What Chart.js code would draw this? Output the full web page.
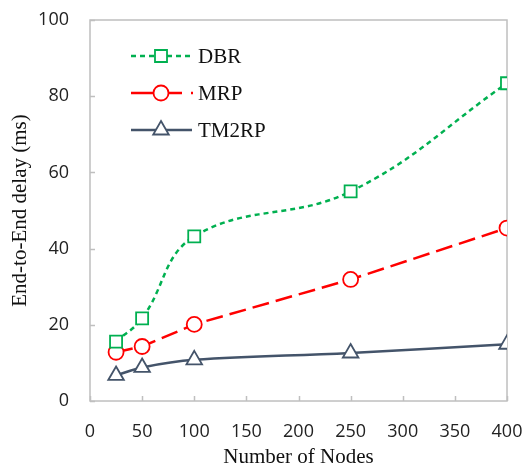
<!DOCTYPE html>
<html><head><meta charset="utf-8">
<script src="https://cdn.jsdelivr.net/npm/chart.js@4/dist/chart.umd.min.js"></script>
<style>html,body{margin:0;padding:0;background:#fff}#wrap{width:528px;height:470px}</style>
</head><body><div id="wrap"><canvas id="c" width="528" height="470"></canvas></div>
<script>
const nodes = [25, 50, 100, 250, 400];
const dbr = [15.6, 21.7, 43.2, 55.0, 83.4];
const mrp = [12.8, 14.3, 20.1, 31.9, 45.4];
const tm2rp = [6.7, 8.8, 10.8, 12.6, 14.9];
const xTicks = [0, 50, 100, 150, 200, 250, 300, 350, 400];
const yTicks = [0, 20, 40, 60, 80, 100];
const seriesNames = ['DBR', 'MRP', 'TM2RP'];

const GREEN = '#00B050', RED = '#FF0000', SLATE = '#44546A';
function pts(v){ return nodes.map((x,i)=>({x, y:v[i]})); }

const boxPlugin = {
  id:'boxTicks',
  beforeDatasetsDraw(chart){
    const {ctx, chartArea:a, scales} = chart;
    ctx.save();
    ctx.strokeStyle = '#BFBFBF'; ctx.lineWidth = 1.5;
    ctx.strokeRect(a.left, a.top, a.right - a.left, a.bottom - a.top);
    ctx.beginPath();
    xTicks.forEach(v=>{ const px = Math.round(scales.x.getPixelForValue(v))+0.5; ctx.moveTo(px, a.bottom); ctx.lineTo(px, a.bottom-5); });
    yTicks.forEach(v=>{ const py = Math.round(scales.y.getPixelForValue(v))+0.5; ctx.moveTo(a.left, py); ctx.lineTo(a.left+5, py); });
    ctx.stroke();
    ctx.restore();
  },
  afterDraw(chart){
    const {ctx} = chart;
    const rows = [
      {name:seriesNames[0], color:GREEN, dash:[5,4], style:'rect', y:56},
      {name:seriesNames[1], color:RED, style:'circle', y:93},
      {name:seriesNames[2], color:SLATE, dash:[], style:'triangle', y:130}
    ];
    ctx.save();
    rows.forEach((r,i)=>{
      ctx.strokeStyle = r.color; ctx.lineWidth = 2.5;
      if(i===1){
        ctx.setLineDash([]);
        ctx.beginPath(); ctx.moveTo(131, r.y); ctx.lineTo(182, r.y); ctx.stroke();
        ctx.beginPath(); ctx.moveTo(191, r.y); ctx.lineTo(193, r.y); ctx.stroke();
      } else {
        ctx.setLineDash(r.dash);
        ctx.beginPath(); ctx.moveTo(131, r.y); ctx.lineTo(192, r.y); ctx.stroke();
      }
      ctx.setLineDash([]);
      ctx.fillStyle = '#fff'; ctx.lineWidth = 1.8;
      const ds = chart.data.datasets[i];
      Chart.helpers.drawPoint(ctx, {pointStyle:r.style, radius:ds.pointRadius, rotation:0, borderWidth:1.8}, 161, r.y);
      ctx.fillStyle = '#111';
      ctx.font = '21px "Liberation Serif", "Times New Roman", serif';
      ctx.textBaseline = 'middle'; ctx.textAlign = 'left';
      ctx.fillText(r.name, 198, r.y+1);
    });
    ctx.restore();
  }
};

new Chart(document.getElementById('c'), {
  type:'line',
  data:{ datasets:[
    {label:seriesNames[0], data:pts(dbr), borderColor:GREEN, borderWidth:2.5, borderDash:[5,4], tension:0.4,
     pointStyle:'rect', pointRadius:8.5, pointBorderWidth:1.8, pointBackgroundColor:'#fff', pointBorderColor:GREEN},
    {label:seriesNames[1], data:pts(mrp), borderColor:RED, borderWidth:2.5, borderDash:[17,7], tension:0,
     pointStyle:'circle', pointRadius:7.5, pointBorderWidth:1.8, pointBackgroundColor:'#fff', pointBorderColor:RED},
    {label:seriesNames[2], data:pts(tm2rp), borderColor:SLATE, borderWidth:2.5, tension:0.4,
     pointStyle:'triangle', pointRadius:9, pointBorderWidth:1.8, pointBackgroundColor:'#fff', pointBorderColor:SLATE}
  ]},
  options:{
    responsive:false, animation:false, devicePixelRatio:1,
    layout:{padding:{top:20, right:21, left:0, bottom:0}},
    plugins:{legend:{display:false}, tooltip:{enabled:false}},
    scales:{
      x:{type:'linear', min:0, max:400,
        afterBuildTicks(s){ s.ticks = xTicks.map(v=>({value:v})); },
        afterFit(s){ s.height = 69; s.paddingRight = 0; s.paddingLeft = 0; },
        grid:{display:false}, border:{display:false},
        ticks:{padding:12, color:'#222', font:{family:'"Open Sans", sans-serif', size:18}},
        title:{display:true, text:'Number of Nodes', color:'#111', padding:{top:0,bottom:0},
          font:{family:'"Liberation Serif", "Times New Roman", serif', size:21}}
      },
      y:{min:0, max:100,
        afterBuildTicks(s){ s.ticks = yTicks.map(v=>({value:v})); },
        afterFit(s){ s.width = 90; s.paddingTop = 0; s.paddingBottom = 0; },
        grid:{display:false}, border:{display:false},
        ticks:{padding:13, color:'#222', font:{family:'"Open Sans", sans-serif', size:18}},
        title:{display:true, text:'End-to-End delay (ms)', color:'#111', padding:{top:8,bottom:0},
          font:{family:'"Liberation Serif", "Times New Roman", serif', size:21}}
      }
    }
  },
  plugins:[boxPlugin]
});
</script></body></html>
